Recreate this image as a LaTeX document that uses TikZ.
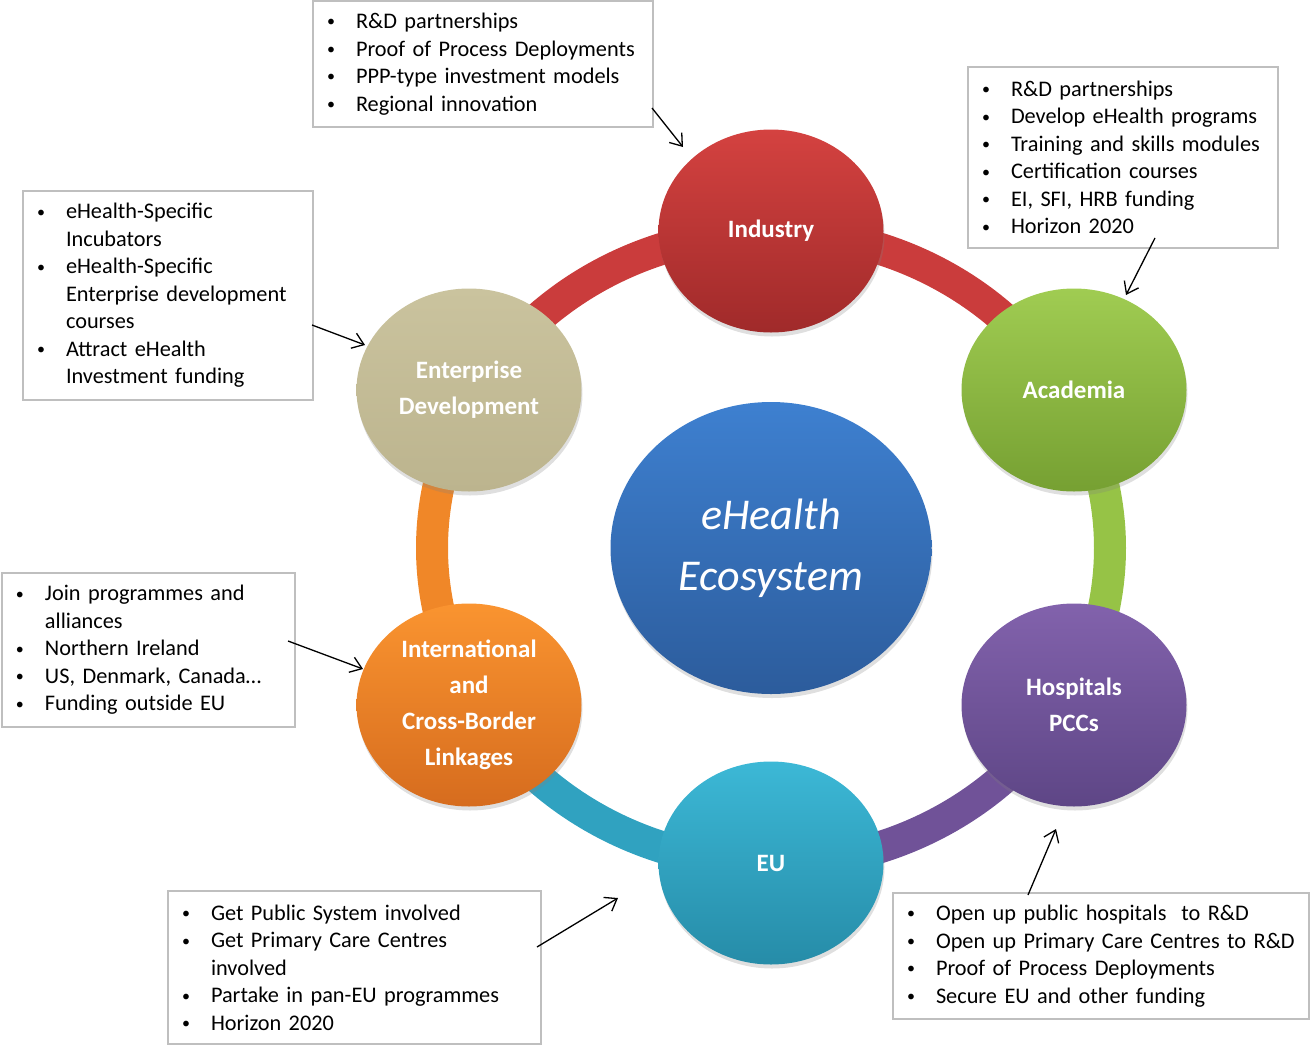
\documentclass[tikz,border=0pt]{standalone}
\usepackage{fontspec}
\setmainfont{Carlito}
\usetikzlibrary{shapes.geometric,arrows.meta,shadows}

\definecolor{boxgray}{RGB}{191,191,191}
\definecolor{indT}{RGB}{212,66,64}
\definecolor{indB}{RGB}{160,42,42}
\definecolor{acaT}{RGB}{160,204,82}
\definecolor{acaB}{RGB}{118,160,50}
\definecolor{hosT}{RGB}{130,98,172}
\definecolor{hosB}{RGB}{94,70,134}
\definecolor{euT}{RGB}{60,184,214}
\definecolor{euB}{RGB}{38,140,168}
\definecolor{intT}{RGB}{250,148,48}
\definecolor{intB}{RGB}{214,108,30}
\definecolor{entT}{RGB}{202,195,158}
\definecolor{entB}{RGB}{188,180,142}
\definecolor{cenT}{RGB}{62,128,208}
\definecolor{cenB}{RGB}{44,92,156}
\definecolor{ringRed}{RGB}{202,60,60}
\definecolor{ringGreen}{RGB}{150,195,70}
\definecolor{ringPurple}{RGB}{112,82,152}
\definecolor{ringTeal}{RGB}{48,162,192}
\definecolor{ringOrange}{RGB}{240,135,40}

\newcommand{\bl}[1]{\mbox{\makebox[29pt][l]{\raisebox{1.6pt}{\fontsize{16}{16}\selectfont\textbullet}}#1}}
\newcommand{\ct}[1]{\mbox{\hspace*{29pt}#1}}

\begin{document}
\begin{tikzpicture}[x=1pt,y=1pt,
  hub/.style={ellipse, minimum width=225pt, minimum height=203pt, inner sep=0pt,
    text=white, font=\bfseries\fontsize{25}{36}\selectfont, align=center,
    drop shadow={opacity=0.25, shadow xshift=1pt, shadow yshift=-4pt}},
  infobox/.style={draw=boxgray, line width=1.8pt, fill=white, inner xsep=14pt,
    inner ysep=0pt, align=left, font=\fontsize{22.3}{27.5}\selectfont},
  ptr/.style={-{Straight Barb[length=11pt,width=16pt]}, line width=1.3pt, black},
  ringseg/.style={line width=32pt}]

\useasboundingbox (0,0) rectangle (1310,-1050);

% ring
\coordinate (ctr) at (771,-548);
\draw[ringseg, ringRed] (ctr) ++(150:339 and 316) arc[start angle=150, end angle=90, x radius=339, y radius=316];
\draw[ringseg, ringRed] (ctr) ++(90:339 and 316) arc[start angle=90, end angle=30, x radius=339, y radius=316];
\draw[ringseg, ringGreen] (ctr) ++(30:339 and 316) arc[start angle=30, end angle=-30, x radius=339, y radius=316];
\draw[ringseg, ringPurple] (ctr) ++(-30:339 and 316) arc[start angle=-30, end angle=-90, x radius=339, y radius=316];
\draw[ringseg, ringTeal] (ctr) ++(-90:339 and 316) arc[start angle=-90, end angle=-150, x radius=339, y radius=316];
\draw[ringseg, ringOrange] (ctr) ++(210:339 and 316) arc[start angle=210, end angle=150, x radius=339, y radius=316];

% hubs
\node[hub, top color=indT, bottom color=indB] (industry) at (771,-231) {Industry};
\node[hub, top color=acaT, bottom color=acaB] (academia) at (1074,-390) {Academia};
\node[hub, top color=hosT, bottom color=hosB] (hospitals) at (1074,-705) {Hospitals\\PCCs};
\node[hub, top color=euT, bottom color=euB] (eu) at (771,-863) {EU};
\node[hub, top color=intT, bottom color=intB] (intl) at (469,-705) {International\\and\\Cross-Border\\Linkages};
\node[hub, top color=entT, bottom color=entB] (enterprise) at (469,-390) {Enterprise\\Development};
\node[ellipse, minimum width=321pt, minimum height=292pt, inner sep=0pt,
  top color=cenT, bottom color=cenB, text=white, align=center,
  font=\itshape\fontsize{44}{61}\selectfont,
  drop shadow={opacity=0.25, shadow xshift=1pt, shadow yshift=-4pt}] (center) at (771,-548) {eHealth\\Ecosystem};

% info boxes
\node[infobox, minimum width=340pt, minimum height=126pt, text width=312pt] (b1) at (483,-64)
  {\bl{R\&D partnerships}\\ \bl{Proof of Process Deployments}\\ \bl{PPP-type investment models}\\ \bl{Regional innovation}};
\node[infobox, minimum width=310pt, minimum height=181pt, text width=282pt] (b2) at (1123,-157.5)
  {\bl{R\&D partnerships}\\ \bl{Develop eHealth programs}\\ \bl{Training and skills modules}\\ \bl{Certification courses}\\ \bl{EI, SFI, HRB funding}\\ \bl{Horizon 2020}};
\node[infobox, minimum width=290pt, minimum height=209pt, text width=262pt] (b3) at (168,-295.5)
  {\bl{eHealth-Specific}\\ \ct{Incubators}\\ \bl{eHealth-Specific}\\ \ct{Enterprise development}\\ \ct{courses}\\ \bl{Attract eHealth}\\ \ct{Investment funding}};
\node[infobox, minimum width=293pt, minimum height=154pt, text width=265pt] (b4) at (148.5,-650)
  {\bl{Join programmes and}\\ \ct{alliances}\\ \bl{Northern Ireland}\\ \bl{US, Denmark, Canada\dots}\\ \bl{Funding outside EU}};
\node[infobox, minimum width=373pt, minimum height=153pt, text width=345pt] (b5) at (354.5,-967.5)
  {\bl{Get Public System involved}\\ \bl{Get Primary Care Centres}\\ \ct{involved}\\ \bl{Partake in pan-EU programmes}\\ \bl{Horizon 2020}};
\node[infobox, minimum width=416pt, minimum height=126pt, text width=388pt] (b6) at (1101,-956)
  {\bl{Open up public hospitals\ \ to R\&D}\\ \bl{Open up Primary Care Centres to R\&D}\\ \bl{Proof of Process Deployments}\\ \bl{Secure EU and other funding}};

% pointers
\coordinate (p1s) at (652,-108); \coordinate (p1e) at (683,-147);
\coordinate (p2s) at (1155,-238); \coordinate (p2e) at (1126,-295);
\coordinate (p3s) at (312,-325); \coordinate (p3e) at (365,-345);
\coordinate (p4s) at (288,-641); \coordinate (p4e) at (363,-669);
\coordinate (p5s) at (537,-947); \coordinate (p5e) at (618,-898);
\coordinate (p6s) at (1028,-895); \coordinate (p6e) at (1056,-829);
\draw[ptr] (p1s) -- (p1e);
\draw[ptr] (p2s) -- (p2e);
\draw[ptr] (p3s) -- (p3e);
\draw[ptr] (p4s) -- (p4e);
\draw[ptr] (p5s) -- (p5e);
\draw[ptr] (p6s) -- (p6e);
\end{tikzpicture}
\end{document}
